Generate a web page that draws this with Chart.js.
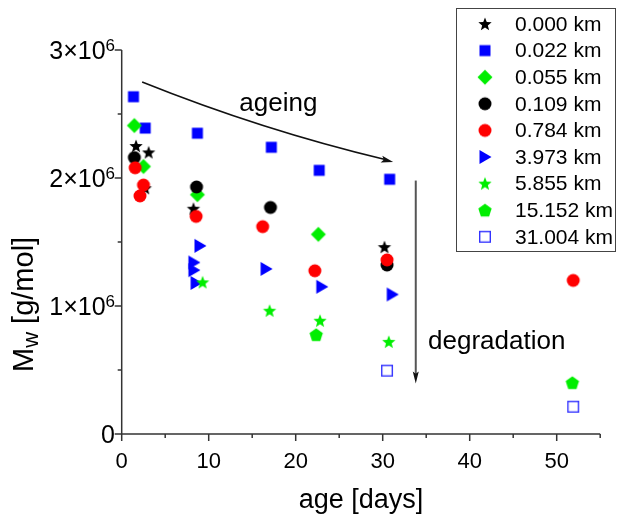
<!DOCTYPE html>
<html>
<head>
<meta charset="utf-8">
<script src="https://cdn.jsdelivr.net/npm/chart.js@4.4.1/dist/chart.umd.min.js"></script>
<style>
  html, body { margin: 0; padding: 0; background: #fff; }
  #wrap { width: 617px; height: 518px; }
</style>
</head>
<body>
<div id="wrap"><canvas id="c" width="617" height="518"></canvas></div>
<script>
// legend entries (distance)
const seriesNames = ['0.000 km', '0.022 km', '0.055 km', '0.109 km', '0.784 km',
  '3.973 km', '5.855 km', '15.152 km', '31.004 km'];

// age [days] / Mw [g/mol] per distance
const age000 = [1.65, 3.1, 2.7, 8.25, 30.2];
const mw000 = [2.25e6, 2.20e6, 1.92e6, 1.76e6, 1.46e6];
const age022 = [1.35, 2.7, 8.7, 17.2, 22.7, 30.8];
const mw022 = [2.635e6, 2.39e6, 2.35e6, 2.24e6, 2.06e6, 1.99e6];
const age055 = [1.45, 2.5, 8.7, 22.6];
const mw055 = [2.41e6, 2.09e6, 1.87e6, 1.56e6];
const age109 = [1.45, 8.6, 17.1, 30.5];
const mw109 = [2.16e6, 1.93e6, 1.77e6, 1.32e6];
const age784 = [1.55, 2.5, 2.1, 8.55, 16.2, 22.2, 30.5, 51.9];
const mw784 = [2.08e6, 1.945e6, 1.86e6, 1.70e6, 1.62e6, 1.275e6, 1.36e6, 1.20e6];
const age3973 = [9.0, 8.3, 8.3, 8.55, 16.6, 23.0, 31.1];
const mw3973 = [1.47e6, 1.34e6, 1.28e6, 1.18e6, 1.29e6, 1.15e6, 1.09e6];
const age5855 = [9.3, 17.0, 22.8, 30.7];
const mw5855 = [1.185e6, 0.963e6, 0.885e6, 0.72e6];
const age15152 = [22.35, 51.8];
const mw15152 = [0.775e6, 0.40e6];
const age31004 = [30.5, 51.9];
const mw31004 = [0.495e6, 0.213e6];

const xTicks = [0, 10, 20, 30, 40, 50];
const yTicks = [0, 1e6, 2e6, 3e6];
const yTickLabels = [['0', ''], ['1×10', '6'], ['2×10', '6'], ['3×10', '6']];

const FONT = '"Liberation Sans", Arial, sans-serif';

// marker images used as pointStyle
function marker(shape, fill, stroke) {
  const s = 20, c = document.createElement('canvas');
  c.width = s; c.height = s;
  const g = c.getContext('2d');
  g.translate(s / 2, s / 2);
  g.beginPath();
  if (shape === 'star') {
    for (let i = 0; i < 10; i++) {
      const r = i % 2 ? 3.0 : 7.0;
      const a = -Math.PI / 2 + i * Math.PI / 5;
      g.lineTo(r * Math.cos(a), r * Math.sin(a) + 0.5);
    }
  } else if (shape === 'square') {
    g.rect(-5.5, -5.5, 11, 11);
  } else if (shape === 'diamond') {
    g.moveTo(0, -7.5); g.lineTo(7.5, 0); g.lineTo(0, 7.5); g.lineTo(-7.5, 0);
  } else if (shape === 'circle') {
    g.arc(0, 0, 6.5, 0, Math.PI * 2);
  } else if (shape === 'triangle') {
    g.moveTo(6.5, 0); g.lineTo(-5.5, 7); g.lineTo(-5.5, -7);
  } else if (shape === 'pentagon') {
    for (let i = 0; i < 5; i++) {
      const a = -Math.PI / 2 + i * 2 * Math.PI / 5;
      g.lineTo(7 * Math.cos(a), 7 * Math.sin(a) + 0.5);
    }
  }
  g.closePath();
  if (stroke) {
    g.strokeStyle = stroke; g.lineWidth = 1.4;
    g.strokeRect(-5.3, -5.3, 10.6, 10.6);
  } else {
    g.fillStyle = fill; g.fill();
  }
  return c;
}

const markers = [
  marker('star', '#000000'),
  marker('square', '#0000ff'),
  marker('diamond', '#00ee00'),
  marker('circle', '#000000'),
  marker('circle', '#ff0000'),
  marker('triangle', '#0000ff'),
  marker('star', '#00ee00'),
  marker('pentagon', '#00ee00'),
  marker('square', null, '#3333ff')
];

const xs = [age000, age022, age055, age109, age784, age3973, age5855, age15152, age31004];
const ys = [mw000, mw022, mw055, mw109, mw784, mw3973, mw5855, mw15152, mw31004];

const datasets = seriesNames.map((name, i) => ({
  label: name,
  data: xs[i].map((x, j) => ({ x: x, y: ys[i][j] })),
  pointStyle: markers[i],
  pointRadius: 7,
  showLine: false,
  order: -i
}));

// annotation anchors in data units
const ageArrow = { x0: 2.35, y0: 2.75e6, cx: 16.1, cy: 2.375e6, x1: 31.2, y1: 2.125e6 };
const degArrow = { x: 33.8, y0: 1.98e6, y1: 0.395e6 };

function arrowHead(ctx, x, y, ang, len, half) {
  ctx.save();
  ctx.translate(x, y); ctx.rotate(ang);
  ctx.beginPath();
  ctx.moveTo(0, 0); ctx.lineTo(-len, -half); ctx.lineTo(-len * 0.8, 0); ctx.lineTo(-len, half);
  ctx.closePath(); ctx.fill();
  ctx.restore();
}

const decor = {
  id: 'decor',
  afterDatasetsDraw(chart) {
    const ctx = chart.ctx, xa = chart.scales.x, ya = chart.scales.y, a = chart.chartArea;
    ctx.save();
    // axes
    ctx.strokeStyle = '#333'; ctx.lineWidth = 1.5;
    ctx.beginPath();
    ctx.moveTo(a.left, a.top); ctx.lineTo(a.left, a.bottom); ctx.lineTo(a.right, a.bottom);
    ctx.stroke();
    // x ticks
    for (let v = 0; v <= 55; v += 5) {
      const px = xa.getPixelForValue(v);
      ctx.beginPath(); ctx.moveTo(px, a.bottom); ctx.lineTo(px, a.bottom + (v % 10 ? 4 : 7)); ctx.stroke();
    }
    for (let v = 0; v <= 3e6; v += 5e5) {
      const py = ya.getPixelForValue(v);
      ctx.beginPath(); ctx.moveTo(a.left, py); ctx.lineTo(a.left - (v % 1e6 ? 4 : 7), py); ctx.stroke();
    }
    ctx.fillStyle = '#000';
    ctx.font = '22px ' + FONT;
    ctx.textAlign = 'center'; ctx.textBaseline = 'alphabetic';
    xTicks.forEach(v => ctx.fillText(String(v), xa.getPixelForValue(v), 468));
    yTicks.forEach((v, i) => {
      const py = ya.getPixelForValue(v);
      const [main, sup] = yTickLabels[i];
      ctx.font = '17px ' + FONT;
      const sw = sup ? ctx.measureText(sup).width : 0;
      ctx.textAlign = 'right';
      if (sup) ctx.fillText(sup, 115, py + 1);
      ctx.font = '25px ' + FONT;
      ctx.fillText(main, 115 - sw, py + 9);
    });
    // axis titles
    ctx.font = '27px ' + FONT; ctx.textAlign = 'center';
    ctx.fillText('age [days]', (a.left + a.right) / 2, 508);
    ctx.save();
    ctx.translate(33, 372); ctx.rotate(-Math.PI / 2);
    ctx.textAlign = 'left';
    ctx.font = '29px ' + FONT; ctx.fillText('M', 0, 0);
    let w = ctx.measureText('M').width;
    ctx.font = '22px ' + FONT; ctx.fillText('w', w, 5);
    w += ctx.measureText('w').width;
    ctx.font = '29px ' + FONT; ctx.fillText(' [g/mol]', w, 0);
    ctx.restore();
    // ageing arrow
    const p0 = [xa.getPixelForValue(ageArrow.x0), ya.getPixelForValue(ageArrow.y0)];
    const pc = [xa.getPixelForValue(ageArrow.cx), ya.getPixelForValue(ageArrow.cy)];
    const p1 = [xa.getPixelForValue(ageArrow.x1), ya.getPixelForValue(ageArrow.y1)];
    ctx.strokeStyle = '#111'; ctx.lineWidth = 1.6; ctx.fillStyle = '#111';
    ctx.beginPath(); ctx.moveTo(p0[0], p0[1]); ctx.quadraticCurveTo(pc[0], pc[1], p1[0] - 8, p1[1] - 2.5); ctx.stroke();
    arrowHead(ctx, p1[0], p1[1], Math.atan2(p1[1] - pc[1], p1[0] - pc[0]), 12, 3.5);
    ctx.font = '26px ' + FONT; ctx.textAlign = 'center'; ctx.fillStyle = '#000';
    ctx.fillText('ageing', xa.getPixelForValue(18), 111);
    // degradation arrow
    const dx = xa.getPixelForValue(degArrow.x), dy0 = ya.getPixelForValue(degArrow.y0), dy1 = ya.getPixelForValue(degArrow.y1);
    ctx.strokeStyle = '#555'; ctx.lineWidth = 2;
    ctx.beginPath(); ctx.moveTo(dx, dy0); ctx.lineTo(dx, dy1 - 8); ctx.stroke();
    ctx.fillStyle = '#111';
    arrowHead(ctx, dx, dy1, Math.PI / 2, 12, 3);
    ctx.fillStyle = '#000'; ctx.textAlign = 'left';
    ctx.fillText('degradation', 428, 349);
    // legend
    ctx.strokeStyle = '#444'; ctx.lineWidth = 1;
    ctx.strokeRect(456.5, 8.5, 159, 243);
    ctx.font = '21px ' + FONT; ctx.textAlign = 'left'; ctx.textBaseline = 'middle';
    seriesNames.forEach((name, i) => {
      const ly = 24 + i * 26.6;
      ctx.drawImage(markers[i], 485 - 10, ly - 10);
      ctx.fillText(name, 515, ly + 1);
    });
    ctx.restore();
  }
};

new Chart(document.getElementById('c'), {
  type: 'scatter',
  data: { datasets: datasets },
  options: {
    responsive: false,
    animation: false,
    devicePixelRatio: 1,
    layout: { padding: { left: 121.7, right: 16.8, top: 50, bottom: 84 } },
    plugins: { legend: { display: false }, tooltip: { enabled: false } },
    scales: {
      x: { type: 'linear', min: 0, max: 55, display: false },
      y: { type: 'linear', min: 0, max: 3e6, display: false }
    }
  },
  plugins: [decor]
});
</script>
</body>
</html>
